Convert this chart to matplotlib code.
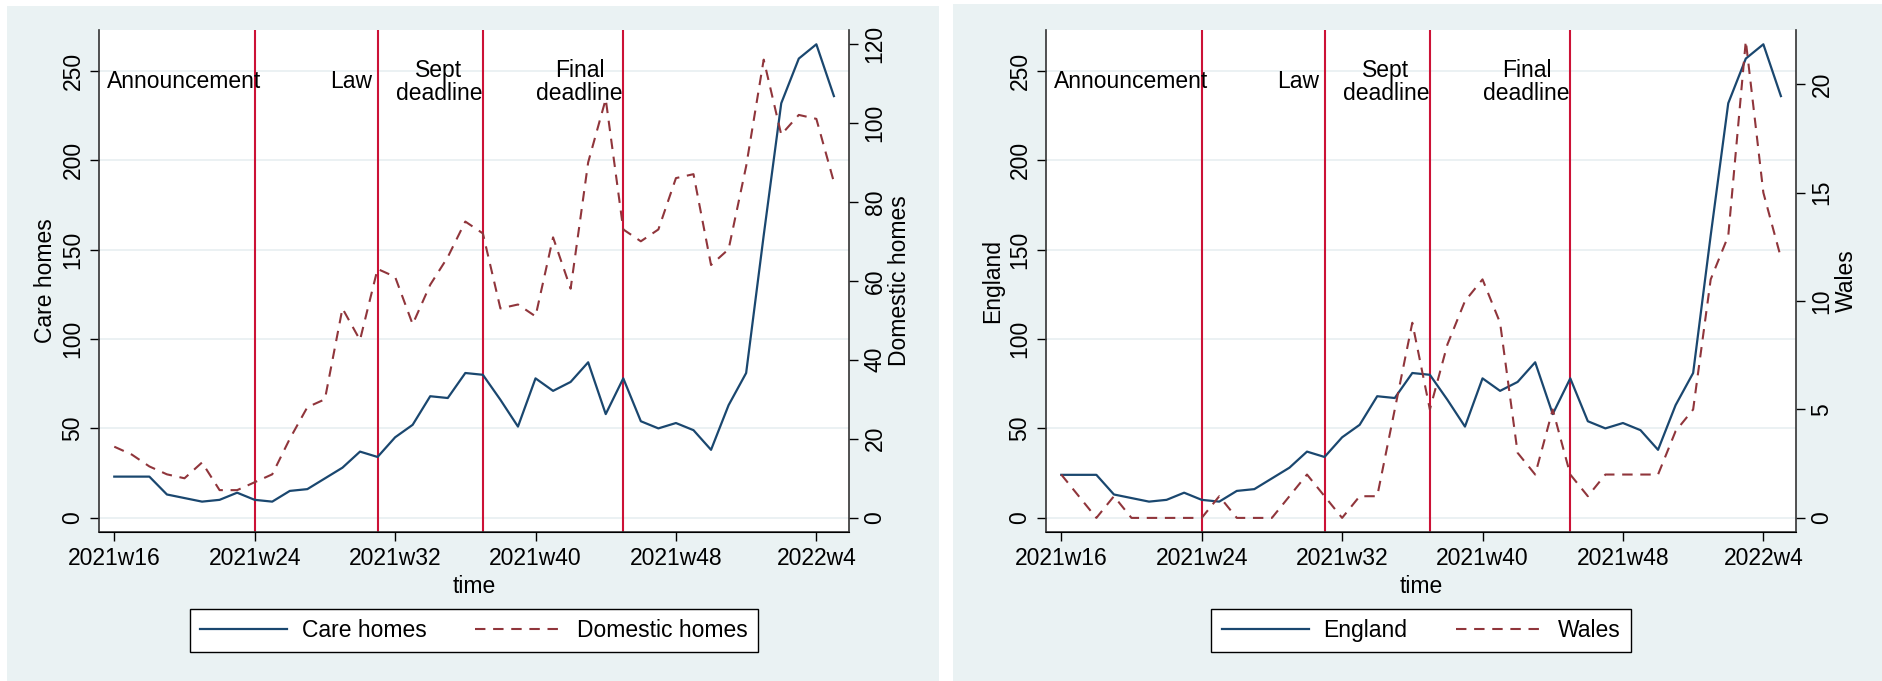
"""
Weekly counts around the policy timeline: care homes vs domestic homes,
and England vs Wales, each with a second y axis.
"""

import numpy as np
import matplotlib
matplotlib.use("Agg")
import matplotlib.pyplot as plt
from matplotlib.patches import Rectangle

plt.rcParams['font.family'] = ['Liberation Sans', 'DejaVu Sans']

# x axis: week index 0 = 2021w16
tick_weeks = [0, 8, 16, 24, 32, 40]
tick_labels = ["2021w16", "2021w24", "2021w32", "2021w40", "2021w48", "2022w4"]

care_homes = [23, 23, 23, 13, 11, 9, 10, 14, 10, 9, 15, 16, 22, 28, 37, 34, 45, 52,
              68, 67, 81, 80, 66, 51, 78, 71, 76, 87, 58, 78, 54, 50, 53, 49, 38,
              63, 81, 158, 232, 257, 265, 236]
domestic_homes = [18, 16, 13, 11, 10, 14, 7, 7, 9, 11, 20, 28, 30, 53, 45, 63, 61, 49,
                  59, 66, 75, 72, 53, 54, 51, 71, 58, 90, 106, 73, 70, 73, 86, 87, 64,
                  68, 89, 116, 97, 102, 101, 85]
england = [24, 24, 24, 13, 11, 9, 10, 14, 10, 9, 15, 16, 22, 28, 37, 34, 45, 52,
           68, 67, 81, 80, 66, 51, 78, 71, 76, 87, 58, 78, 54, 50, 53, 49, 38,
           63, 81, 158, 232, 257, 265, 236]
wales = [2, 1, 0, 1, 0, 0, 0, 0, 0, 1, 0, 0, 0, 1, 2, 1, 0, 1, 1, 5, 9, 5, 8, 10, 11,
         9, 3, 2, 5, 2, 1, 2, 2, 2, 2, 4, 5, 11, 13, 22, 15, 12]

event_weeks = [8, 15, 21, 29]
event_labels = ["Announcement", "Law", "Sept\ndeadline", "Final\ndeadline"]
event_label_x = [4.0, 13.5, 18.5, 26.5]
event_label_y = 244

left_ticks = [0, 50, 100, 150, 200, 250]
domestic_ticks = [0, 20, 40, 60, 80, 100, 120]
wales_ticks = [0, 5, 10, 15, 20]

NAVY = "#1A476F"
MAROON = "#90353B"
RED = "#CC1236"
BG = "#EAF2F3"
GRID = "#E9F0F2"
FS = 16.5
DASH = (5, 3.7)

W, H = 1883, 681
fig = plt.figure(figsize=(W / 100, H / 100), dpi=100)

# light panel backgrounds (Stata graph region)
fig.patches.append(Rectangle((7 / W, 0), 932 / W, 675 / H, transform=fig.transFigure,
                             facecolor=BG, edgecolor='none', zorder=-10))
fig.patches.append(Rectangle((953 / W, 0), 930 / W, 677 / H, transform=fig.transFigure,
                             facecolor=BG, edgecolor='none', zorder=-10))


def draw_panel(left_px, left_vals, right_vals, left_name, right_name,
               right_ticks, right_lim):
    ax = fig.add_axes([left_px / W, 149 / H, 750 / W, 502 / H])
    ax2 = ax.twinx()
    x = np.arange(len(left_vals))

    ax.yaxis.grid(True, color=GRID, lw=1.3)
    ax.set_axisbelow(True)

    for wk in event_weeks:
        ax.axvline(wk, color=RED, lw=1.5, zorder=1)

    l1, = ax.plot(x, left_vals, color=NAVY, lw=1.6, zorder=3, label=left_name)
    l2, = ax2.plot(x, right_vals, color=MAROON, lw=1.5, dashes=DASH, label=right_name)

    for lx, lab in zip(event_label_x, event_labels):
        ax.text(lx, event_label_y, lab, ha='center', va='center', fontsize=FS,
                linespacing=1.0)

    ax.set_xlim(-0.87, 41.86)
    ax.set_ylim(-8, 273)
    ax2.set_ylim(*right_lim)

    ax.set_xticks(tick_weeks)
    ax.set_xticklabels(tick_labels)
    ax.set_yticks(left_ticks)
    ax2.set_yticks(right_ticks)

    for a in (ax, ax2):
        a.tick_params(axis='both', direction='out', length=6.5, width=1,
                      labelsize=FS, colors='black', pad=4)
        a.tick_params(axis='y', labelrotation=90)
        for lbl in a.get_yticklabels():
            lbl.set_va('center')
        a.spines['top'].set_visible(False)
    ax.spines['right'].set_visible(False)
    ax2.spines['left'].set_visible(False)
    for s in ('left', 'bottom'):
        ax.spines[s].set_color('#333333')
        ax.spines[s].set_linewidth(1.2)
    ax2.spines['right'].set_color('#333333')
    ax2.spines['right'].set_linewidth(1.2)

    ax.set_xlabel("time", fontsize=FS, labelpad=4)
    ax.set_ylabel(left_name, fontsize=FS, labelpad=3)
    ax2.set_ylabel(right_name, fontsize=FS, labelpad=1)

    leg = ax.legend([l1, l2], [left_name, right_name], ncol=2, loc='center',
                    bbox_to_anchor=(0.5, -0.196), fontsize=FS, handlelength=3.8,
                    handletextpad=0.65, columnspacing=2.1, borderpad=0.45,
                    fancybox=False, framealpha=1, edgecolor='black')
    leg.get_frame().set_linewidth(1.0)
    return ax, ax2


draw_panel(99, care_homes, domestic_homes, "Care homes", "Domestic homes",
           domestic_ticks, (-3.6, 123.5))
draw_panel(1046, england, wales, "England", "Wales",
           wales_ticks, (-0.65, 22.5))

plt.savefig("out.png", dpi=100)
